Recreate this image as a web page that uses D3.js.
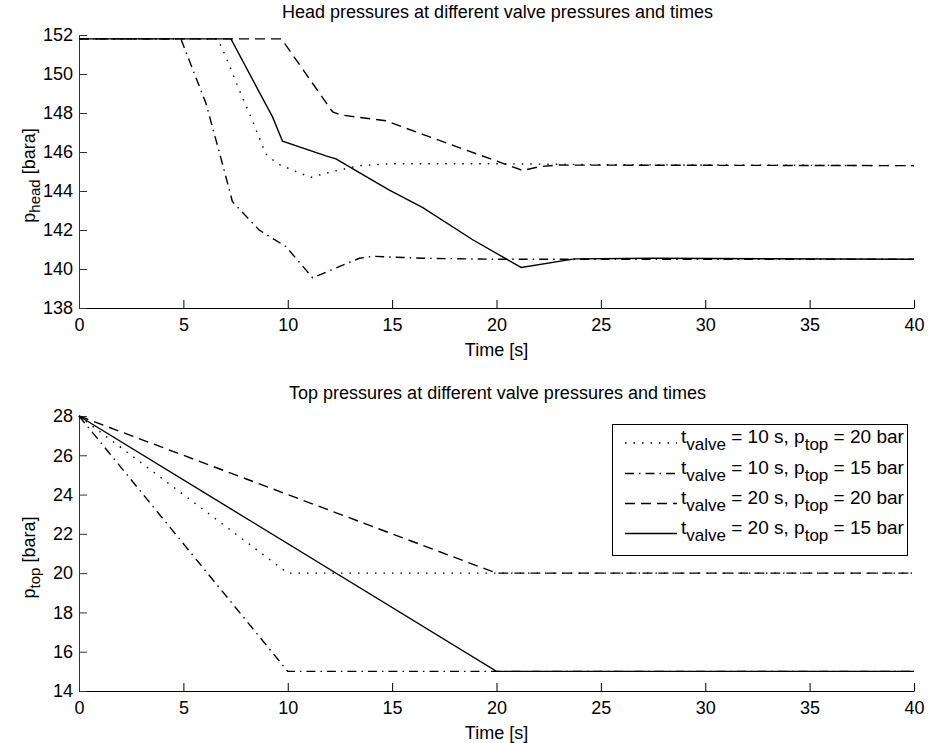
<!DOCTYPE html>
<html><head><meta charset="utf-8">
<script src="https://cdn.jsdelivr.net/npm/d3@7"></script>
<style>body{margin:0;background:#fff}svg{display:block}text{font-family:"Liberation Sans",Arial,sans-serif;fill:#000}</style>
</head><body>
<svg id="c" width="932" height="743"></svg>
<script>
// ---------- data ----------
const seriesNames = [
  ["10 s", "20 bar"],
  ["10 s", "15 bar"],
  ["20 s", "20 bar"],
  ["20 s", "15 bar"]
];
const xTicks = [0,5,10,15,20,25,30,35,40];
const headTicks = [138,140,142,144,146,148,150,152];
const topTicks = [14,16,18,20,22,24,26,28];

// head pressure series: [time, pressure]
const headDotted = [[0,151.8],[6.64,151.8],[7.03,150.9],[7.67,149.2],[8.31,147.6],[8.95,145.9],[9.51,145.4],[10.39,145.0],[11.11,144.7],[12.15,145.0],[13.43,145.3],[15,145.4],[20,145.4],[25,145.35],[40,145.3]];
const headDashDot = [[0,151.8],[4.88,151.8],[5.28,150.7],[6.08,148.5],[6.87,145.4],[7.35,143.45],[8.63,142.0],[9.91,141.15],[10.39,140.55],[11.19,139.55],[13.43,140.55],[14.07,140.65],[16.47,140.55],[20,140.5],[40,140.5]];
const headDashed = [[0,151.8],[9.7,151.8],[12.15,148.05],[12.55,147.9],[14.7,147.6],[16.47,146.9],[21.26,145.05],[22.06,145.25],[23.0,145.33],[40,145.3]];
const headSolid = [[0,151.8],[7.28,151.8],[9.27,147.8],[9.75,146.55],[11.83,145.8],[12.31,145.65],[13.9,144.65],[14.87,144.05],[16.47,143.15],[18.86,141.5],[21.18,140.08],[23.74,140.52],[27.5,140.55],[40,140.5]];

// top pressure series
const topDotted = [[0,28],[10,20],[40,20]];
const topDashDot = [[0,28],[10,15],[40,15]];
const topDashed = [[0,28],[20,20],[40,20]];
const topSolid = [[0,28],[20,15],[40,15]];

const dashes = ["1.5,7", "9,5,1.5,5", "10,6", null];

// ---------- drawing ----------
const svg = d3.select("#c");
const X0 = 79, X1 = 914;
const FS = "18px", SUB = "15px";

function panel(cfg){
  const x = d3.scaleLinear().domain([0,40]).range([X0,X1]);
  const y = d3.scaleLinear().domain(cfg.ydom).range([cfg.yb, cfg.yt]);
  const g = svg.append("g");
  g.append("text").attr("x",(X0+X1)/2 + 1).attr("y",cfg.yt-17).attr("text-anchor","middle")
    .style("font-size",FS).text(cfg.title);
  const xa = g.append("g").attr("transform",`translate(0,${cfg.yb})`)
    .call(d3.axisBottom(x).tickValues(xTicks).tickSizeInner(-8).tickSizeOuter(0).tickPadding(10).tickFormat(d3.format("d")));
  xa.select(".domain").attr("stroke","#000");
  xa.selectAll(".tick line").attr("stroke","#000");
  xa.selectAll("text").style("font-size",FS).attr("fill","#000");
  const ya = g.append("g").attr("transform",`translate(${X0},0)`)
    .call(d3.axisLeft(y).tickValues(cfg.yticks).tickSizeInner(-8).tickSizeOuter(0).tickPadding(6).tickFormat(d3.format("d")));
  ya.select(".domain").attr("stroke","#333");
  ya.selectAll(".tick line").attr("stroke","#333");
  ya.selectAll("text").style("font-size",FS).attr("fill","#000");
  g.append("text").attr("x",(X0+X1)/2).attr("y",cfg.yb+48).attr("text-anchor","middle")
    .style("font-size",FS).text("Time [s]");
  const yl = g.append("text").attr("transform",`translate(35,${(cfg.yt+cfg.yb)/2 + 4}) rotate(-90)`)
    .attr("text-anchor","middle").style("font-size",FS);
  yl.append("tspan").text("p");
  yl.append("tspan").attr("baseline-shift","-35%").style("font-size",SUB).text(cfg.sub);
  yl.append("tspan").text(" [bara]");
  const line = d3.line().x(d=>x(d[0])).y(d=>y(d[1]));
  cfg.series.forEach((s,i)=>{
    g.append("path").datum(s).attr("d",line).attr("fill","none").attr("stroke","#000")
      .attr("stroke-width",1.4).attr("stroke-dasharray",dashes[i]);
  });
  return {x,y,g};
}

panel({title:"Head pressures at different valve pressures and times", ydom:[138,152], yb:308, yt:35,
  yticks:headTicks, sub:"head", series:[headDotted,headDashDot,headDashed,headSolid]});
panel({title:"Top pressures at different valve pressures and times", ydom:[14,28], yb:691, yt:416,
  yticks:topTicks, sub:"top", series:[topDotted,topDashDot,topDashed,topSolid]});

// legend
const lg = svg.append("g");
lg.append("rect").attr("x",612.5).attr("y",424.5).attr("width",295).attr("height",131)
  .attr("fill","#fff").attr("stroke","#000").attr("stroke-width",1);
const rowY = [443,473.5,503.5,533.5];
seriesNames.forEach((n,i)=>{
  lg.append("line").attr("x1",625).attr("x2",677).attr("y1",rowY[i]).attr("y2",rowY[i])
    .attr("stroke","#000").attr("stroke-width",1.4).attr("stroke-dasharray",dashes[i]);
  const t = lg.append("text").attr("x",681).attr("y",rowY[i]).style("font-size","19px");
  t.append("tspan").text("t");
  t.append("tspan").attr("baseline-shift","-40%").style("font-size","17px").text("valve");
  t.append("tspan").text(` = ${n[0]}, p`);
  t.append("tspan").attr("baseline-shift","-40%").style("font-size","17px").text("top");
  t.append("tspan").text(` = ${n[1]}`);
});
</script>
</body></html>
